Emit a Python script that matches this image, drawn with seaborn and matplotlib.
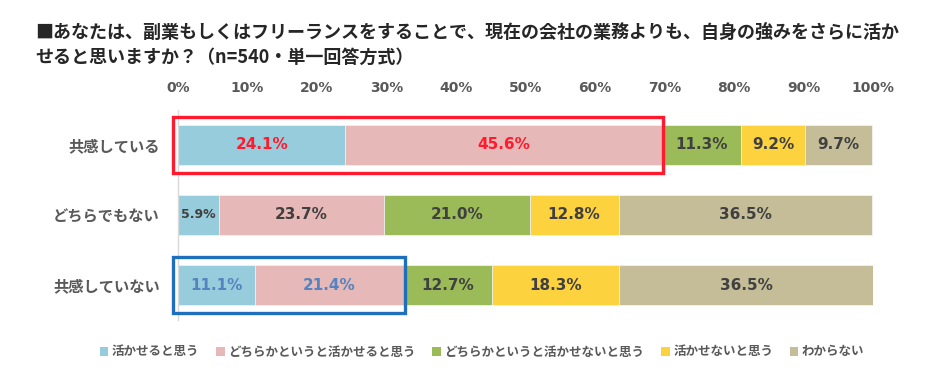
import numpy as np
import matplotlib
matplotlib.use('Agg')
import matplotlib.pyplot as plt
from matplotlib.patches import Patch, Rectangle
import seaborn as sns

# Graph set-up
sns.set_theme(style='white')
plt.rcParams['font.family'] = ['Noto Sans CJK JP', 'DejaVu Sans']

# data
title = ('■あなたは、副業もしくはフリーランスをすることで、現在の会社の業務よりも、自身の強みをさらに活か\n'
         'せると思いますか？（n=540・単一回答方式）')
categories = ['共感している', 'どちらでもない', '共感していない']
responses = ['活かせると思う', 'どちらかというと活かせると思う', 'どちらかというと活かせないと思う',
             '活かせないと思う', 'わからない']
kaseru = [24.1, 5.9, 11.1]
dochira_kaseru = [45.6, 23.7, 21.4]
dochira_kasenai = [11.3, 21.0, 12.7]
kasenai = [9.2, 12.8, 18.3]
wakaranai = [9.7, 36.5, 36.5]
xticks = [0, 10, 20, 30, 40, 50, 60, 70, 80, 90, 100]

series = [kaseru, dochira_kaseru, dochira_kasenai, kasenai, wakaranai]
colors = ['#96CCDB', '#E6B8B7', '#9BBB59', '#FCD23F', '#C4BD97']
highlight = {0: '#FF1A2E', 2: '#1F6FBF'}      # row -> box colour
label_hl = {0: '#FF1A2E', 2: '#5583C0'}
txt_dark = '#404040'
grey = '#595959'

values = np.array(series)              # (response, category)
cum = values.cumsum(axis=0)
starts = cum - values

fig = plt.figure(figsize=(9.42, 3.80), dpi=100)
ax = fig.add_axes([178 / 942, 1 - 320 / 380, 695 / 942, 210 / 380])

# stacked bars: draw cumulative totals from the back to the front
for i in reversed(range(len(responses))):
    sns.barplot(x=cum[i], y=categories, orient='h', color=colors[i], saturation=1,
                width=0.585, edgecolor='#F2F2F2', linewidth=0.6, ax=ax)

# value labels
for i in range(len(responses)):
    for j in range(len(categories)):
        v = values[i, j]
        col = label_hl[j] if (j in label_hl and i < 2) else txt_dark
        size = 9 if v < 8 else 11
        ax.text(starts[i, j] + v / 2, j, f'{v:.1f}%', ha='center', va='center',
                fontsize=size, fontweight='bold', color=col, family='DejaVu Sans')

# highlight boxes around the two "活かせる" segments
for j, col in highlight.items():
    right = cum[1, j] + 0.1
    ax.add_patch(Rectangle((-0.7, j - 0.4), right + 0.7, 0.8, fill=False,
                           edgecolor=col, linewidth=2.4, clip_on=False, zorder=5))

ax.set_xlim(0, 100)
ax.set_ylim(2.5, -0.5)
ax.xaxis.tick_top()
ax.set_xticks(xticks)
ax.set_xticklabels([f'{t}%' for t in xticks], family='DejaVu Sans')
ax.tick_params(axis='x', length=0, pad=11, labelsize=10, labelcolor=grey)
ax.tick_params(axis='y', length=0, pad=13, labelsize=11, labelcolor=grey)
for lab in ax.get_xticklabels() + ax.get_yticklabels():
    lab.set_fontweight('bold')
ax.set_xlabel('')
ax.set_ylabel('')
for s in ['top', 'right', 'bottom']:
    ax.spines[s].set_visible(False)
ax.spines['left'].set_color('#D9D9D9')
ax.spines['left'].set_linewidth(1)

# title
fig.text(35 / 942, 1 - 23 / 380, title, ha='left', va='top', fontsize=13,
         fontweight='bold', color='#262626', linespacing=1.4)

# legend
handles = [Patch(facecolor=c, edgecolor='none') for c in colors]
leg = fig.legend(handles, responses, loc='center', bbox_to_anchor=(482 / 942, 1 - 352 / 380),
                 ncol=5, frameon=False, fontsize=9, handlelength=0.7, handleheight=0.7,
                 handletextpad=0.3, columnspacing=1.3)
for t in leg.get_texts():
    t.set_color(grey)
    t.set_fontweight('bold')

fig.savefig('out.png', dpi=100)
